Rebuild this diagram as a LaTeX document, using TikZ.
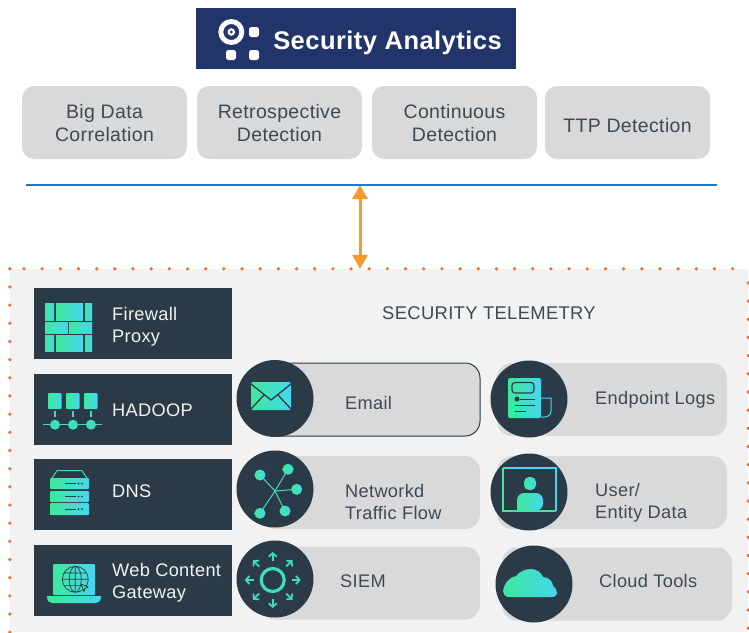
\documentclass[tikz,border=0pt]{standalone}
\usepackage{fontspec}
\setmainfont[LetterSpace=1.8]{Liberation Sans}
\usetikzlibrary{arrows.meta}
\definecolor{titleblue}{HTML}{22356B}
\definecolor{darkslate}{HTML}{2A3B47}
\definecolor{boxgray}{HTML}{D9D9D9}
\definecolor{panelgray}{HTML}{F2F2F2}
\definecolor{dotorange}{HTML}{F26F2B}
\definecolor{arroworange}{HTML}{F79A2B}
\definecolor{ruleblue}{HTML}{1F78C8}
\definecolor{textslate}{HTML}{3B4A56}
\definecolor{iconleft}{HTML}{3EE89A}
\definecolor{iconright}{HTML}{45D6F0}
\definecolor{iconmid}{HTML}{40DDBC}

\begin{document}
\begin{tikzpicture}
[x=1pt,y=-1pt,%
  labelfont/.style={font=\fontsize{18.2}{22}\selectfont},%
  topdecorate/.style={shape=rectangle,rounded corners=12pt,fill=boxgray,
    minimum width=165pt,minimum height=73pt,inner sep=0pt},%
  toptext/.style={inner sep=0pt,align=center,text=textslate,font=\fontsize{19.5}{23}\selectfont},%
  sourcedecorate/.style={shape=rectangle,fill=darkslate,minimum width=198pt,minimum height=71pt},%
  pilldecorate/.style={shape=rectangle,rounded corners=15pt,fill=boxgray,minimum height=73pt},%
  circledecorate/.style={shape=circle,fill=darkslate,minimum size=77pt,inner sep=0pt},%
  sourcetext/.style={anchor=west,inner sep=0pt,align=left,text=panelgray,labelfont},%
  pilltext/.style={anchor=west,inner sep=0pt,align=left,text=textslate,labelfont},%
  gradfill/.style={left color=iconleft,right color=iconright},%
  darkline/.style={draw=darkslate,line width=1pt},%
  dotline/.style={draw=dotorange,line width=3.6pt,line cap=round,dash pattern=on 0pt off 18.17pt}]
\useasboundingbox (0,0) rectangle (749,632);
%% telemetry panel
\node (panel) at (379,450.5) [shape=rectangle,fill=panelgray,minimum width=738pt,minimum height=363pt,inner sep=0pt] {};
\draw[dotline] (panel.north west) -- (panel.south west);
\draw[dotline,dash phase=4pt] (panel.north west) -- (panel.north east);
\draw[dotline,dash phase=4pt] (panel.north east) -- (panel.south east);
%% title
\node (title) at (356,38.5) [shape=rectangle,fill=titleblue,minimum width=320pt,minimum height=61pt] {};
\node (titletext) at (387.5,42.5) [text=white,font=\fontsize{25.5}{30}\selectfont\bfseries,inner sep=0pt] {Security Analytics};
\fill[white,even odd rule] (231.3,32) circle (13) (231.3,32) circle (8);
\fill[white,even odd rule] (231.3,32) circle (3.8) (231.3,32) circle (1.8);
\foreach \x/\y in {254/32, 231/55, 254/55} {
  \fill[white,rounded corners=2.5pt] (\x-5,\y-5) rectangle (\x+5,\y+5);
}
%% top boxes
\foreach \nodename/\x/\ty/\boxtext in {bigdata/104.5/123.5/{Big Data\\Correlation}, retro/279.5/123.5/{Retrospective\\Detection},
  continuous/454.5/123.5/{Continuous\\Detection}, ttp/627.5/126/{TTP Detection}} {
  \node (\nodename) at (\x,122.5) [topdecorate] {};
  \node (\nodename text) at (\x,\ty) [toptext] {\boxtext};
}
%% rule and arrow
\coordinate (ruleleft) at (26,185);
\coordinate (ruleright) at (717,185);
\coordinate (rulemid) at (360,185);
\draw[ruleblue,line width=1.2pt] (ruleleft) -- (ruleright);
\draw[arroworange,line width=3pt,{Triangle[length=14pt,width=15pt]}-{Triangle[length=14pt,width=15pt]}]
  (rulemid) -- (rulemid |- panel.north);
\node (telemetry) at (489,313) [text=textslate,font=\fontsize{18.4}{22}\selectfont,inner sep=0pt] {SECURITY TELEMETRY};
%% sources
\foreach \nodename/\y/\ty/\boxtext in {firewall/323.5/327/{Firewall\\Proxy}, hadoop/409.5/410.5/{HADOOP},
  dns/494.5/491/{DNS}, webgate/580.5/583/{Web Content\\Gateway}} {
  \node (\nodename) at (133,\y) [sourcedecorate] {};
  \node (\nodename text) at (112,\ty) [sourcetext] {\boxtext};
}
%% pills
\foreach \nodename/\x/\y/\w/\tx/\ty/\boxtext in {networkd/370/492.5/220/345/502/{Networkd\\Traffic Flow}, siem/370/583/220/340/581.5/{SIEM},
  endpoint/612/399.5/230/595/400/{Endpoint Logs}, userdata/612/492.5/230/595/502.5/{User/\\Entity Data}, cloud/617/584/230/599/581/{Cloud Tools}} {
  \node (\nodename) at (\x,\y) [pilldecorate,minimum width=\w pt] {};
  \node (\nodename text) at (\tx,\ty) [pilltext] {\boxtext};
}
\node (email) at (370,399.5) [pilldecorate,draw=darkslate,line width=1pt,minimum width=220pt] {};
\node (emailtext) at (345,402.5) [pilltext] {Email};
%% circles
\foreach \nodename/\x/\y in {emailc/275/398.5, networkc/275/489, siemc/275/579, endpointc/529/399, userc/529/492, cloudc/534/584} {
  \node (\nodename) at (\x,\y) [circledecorate] {};
}
%% firewall icon
\foreach \xa/\xb/\ya/\yb in {45/54/303/320, 56/83/303/320, 85/92/303/320, 45/68/322/333, 69/92/322/333,
  45/54/335/351, 56/83/335/351, 85/92/335/351} {
  \shade[gradfill] (\xa,\ya) rectangle (\xb,\yb);
}
%% hadoop icon
\draw[iconmid,line width=1pt] (43,424.7) -- (102,424.7);
\foreach \x in {48,66,84} {
  \shade[gradfill,rounded corners=1pt] (\x,393) rectangle (\x+13.5,409);
  \draw[iconmid,line width=1.5pt] (\x+7,411) -- (\x+7,417);
  \fill[iconmid] (\x+7,424.7) circle (5);
}
%% dns icon
\draw[iconmid,line width=1pt] (52,478) -- (57,470.7) -- (82,470.7) -- (87,478);
\foreach \ya/\yb in {478/489, 491/502, 503/515} {
  \shade[gradfill,rounded corners=1pt] (50,\ya) rectangle (89,\yb);
  \draw[darkline] (65,\ya/2+\yb/2) -- (76,\ya/2+\yb/2);
  \fill[darkslate] (78.5,\ya/2+\yb/2) circle (1) (82,\ya/2+\yb/2) circle (1);
}
%% web icon
\shade[gradfill,rounded corners=1pt] (53,564) rectangle (95,595);
\shade[gradfill] (47,596) -- (101,596) .. controls (101,601) and (99,603) .. (96,603) -- (52,603) .. controls (49,603) and (47,601) .. (47,596) -- cycle;
\draw[darkline,line width=0.7pt] (75.3,579.3) circle (13) (75.3,579.3) ellipse (6 and 13)
  (75.3,566.3) -- (75.3,592.3) (62.3,579.3) -- (88.3,579.3) (64,573) -- (86.6,573) (64,585.6) -- (86.6,585.6);
\fill[iconleft,draw=darkslate,line width=0.7pt] (81,584) -- (88,587) -- (85,588.5) -- (84,591.5) -- cycle;
%% email icon
\shade[gradfill,rounded corners=1.5pt] (251,382) rectangle (291,410);
\draw[darkline,line width=1.3pt] (251,384) -- (271,400) -- (291,384) (251,409) -- (264,395) (291,409) -- (278,395);
%% network icon
\foreach \x/\y in {260/475, 288/469.3, 296.7/489.3, 285/511, 260/513.3} {
  \draw[iconmid,line width=1pt] (275,491) -- (\x,\y);
  \shade[gradfill] (\x,\y) circle (5.5);
}
%% siem icon
\draw[iconmid,line width=3.2pt] (272.7,580) circle (11.5);
\foreach \a in {0,45,...,315} {
  \draw[iconmid,line width=1.8pt,-{Straight Barb[length=3.5pt,width=8pt]}] (272.7,580) ++(\a:19) -- ++(\a:9);
}
%% endpoint icon
\shade[gradfill,rounded corners=2pt] (508,378) rectangle (541,418);
\draw[iconright,line width=1pt] (541,398) -- (551,398) -- (551,411) .. controls (551,415) and (548,417) .. (544,417) -- (541,417);
\draw[darkline,line width=1.2pt,rounded corners=3pt] (512,382.5) rectangle (534,393);
\fill[darkslate] (517,399) circle (2.5);
\draw[darkline] (520,399) -- (535,399) (515,405) -- (535,405) (515,411) -- (526,411);
%% user icon
\draw[iconleft,line width=1.5pt] (556,511) -- (503,511) -- (503,468);
\draw[iconright,line width=1.5pt] (503,468) -- (556,468) -- (556,511);
\shade[gradfill,rounded corners=5pt] (524,477) rectangle (536,490);
\shade[gradfill,rounded corners=7pt] (517,510.5) -- (517,493) -- (543,493) -- (543,510.5) [sharp corners] -- cycle;
%% cloud icon
\shade[gradfill] (509,597) .. controls (505,597) and (503,594) .. (503,591) .. controls (504,584) and (508,578) .. (516,576)
  .. controls (520,571) and (526,569) .. (531,569) .. controls (536,569) and (541,572) .. (543,577)
  .. controls (549,577) and (553,582) .. (553,586) .. controls (556,588) and (557,591) .. (557,593)
  .. controls (557,596) and (555,597) .. (552,597) -- cycle;
\end{tikzpicture}
\end{document}
